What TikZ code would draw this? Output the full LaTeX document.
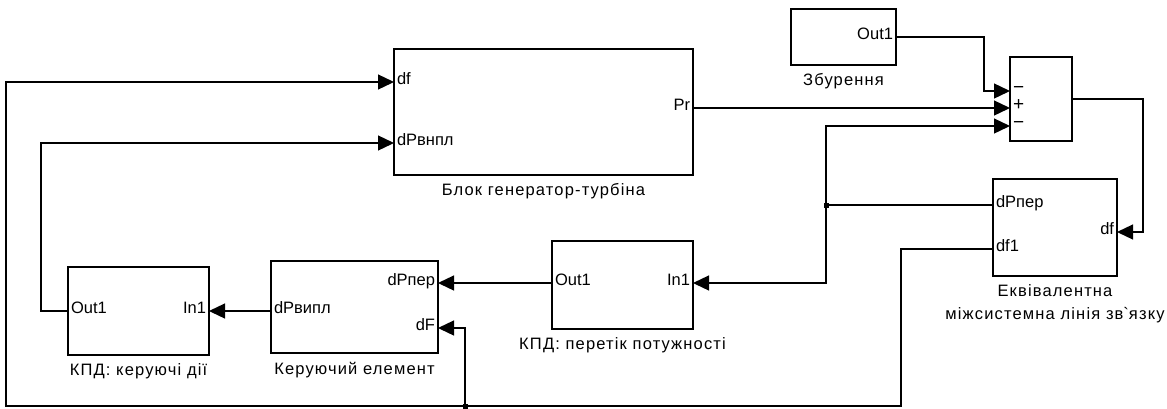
\documentclass[tikz,border=0pt]{standalone}
\usepackage{fontspec}
\setmainfont{Liberation Sans}
\newfontfamily\capfont{Liberation Sans}[LetterSpace=7]
\usetikzlibrary{arrows.meta, positioning}
\tikzstyle{block} = [rectangle, draw, line width=1.3pt, inner sep=0pt]
\tikzstyle{port} = [inner xsep=3pt, inner ysep=0pt, outer sep=0pt, font=\fontsize{16.5}{19}\selectfont]
\tikzstyle{caption} = [inner sep=0pt, align=center, font=\capfont\fontsize{16.5}{23}\selectfont]

\begin{document}
\begin{tikzpicture}[
x=1pt, y=-1pt,
wire/.style = {draw, line width=1.3pt, -{Triangle[length=16pt,width=15pt]}},
line/.style = {draw, line width=1.3pt},
dot/.style = {rectangle, fill, inner sep=0pt, minimum size=5pt}
                    ]
\useasboundingbox (0,0) rectangle (1167,408);

\node [block, minimum width=299pt, minimum height=126pt] (gen) at (543.5,112) {};
\node [port, anchor=mid west] (gen-df) at (394,82) {df};
\node [port, anchor=mid west] (gen-dv) at (394,143) {dPвнпл};
\node [port, anchor=mid east] (gen-pr) at (693,108) {Pr};
\node [caption, below=8pt of gen] (gen-cap) {Блок генератор-турбіна};

\node [block, minimum width=105pt, minimum height=56pt] (zbur) at (843.5,37) {};
\node [port, anchor=mid east] (zbur-out) at (896,37) {Out1};
\node [caption, below=8pt of zbur] (zbur-cap) {Збурення};

\node [block, minimum width=62pt, minimum height=84pt] (sum) at (1041,99) {};
\node [port, anchor=mid west, font=\fontsize{19}{19}\selectfont] (sum-m1) at (1010,91) {−};
\node [port, anchor=mid west, font=\fontsize{19}{19}\selectfont] (sum-p) at (1010,108) {+};
\node [port, anchor=mid west, font=\fontsize{19}{19}\selectfont] (sum-m2) at (1010,126) {−};

\node [block, minimum width=124pt, minimum height=97pt] (eq) at (1055,227.5) {};
\node [port, anchor=mid west] (eq-dp) at (993,205) {dPпер};
\node [port, anchor=mid west] (eq-df1) at (993,249) {df1};
\node [port, anchor=mid east] (eq-df) at (1117,232) {df};
\node [caption, below=8pt of eq] (eq-cap) {Еквівалентна\\міжсистемна лінія зв\textasciigrave язку};

\node [block, minimum width=141pt, minimum height=88pt] (per) at (622.5,285) {};
\node [port, anchor=mid west] (per-out) at (552,283) {Out1};
\node [port, anchor=mid east] (per-in) at (693,283) {In1};
\node [caption, below=8pt of per] (per-cap) {КПД: перетік потужності};

\node [block, minimum width=167pt, minimum height=92pt] (ker) at (354.5,307) {};
\node [port, anchor=mid east] (ker-dp) at (438,283) {dPпер};
\node [port, anchor=mid east] (ker-df) at (438,328) {dF};
\node [port, anchor=mid west] (ker-dv) at (271,311) {dPвипл};
\node [caption, below=8pt of ker] (ker-cap) {Керуючий елемент};

\node [block, minimum width=141pt, minimum height=88pt] (kpd) at (138.5,311) {};
\node [port, anchor=mid west] (kpd-out) at (68,311) {Out1};
\node [port, anchor=mid east] (kpd-in) at (209,311) {In1};
\node [caption, below=8pt of kpd] (kpd-cap) {КПД: керуючі дії};

\coordinate (j1) at (826,205);
\coordinate (j2) at (465,406);
\coordinate (fb-r) at (901,406);
\coordinate (fb-l) at (6,406);
\coordinate (fb-m) at (41,143);

\draw [wire] (zbur-out.mid east) -| ([xshift=-26pt]sum-m1.mid west) -- (sum-m1.mid west);
\draw [wire] (gen-pr.mid east) -- (sum-p.mid west);
\draw [wire] (sum.east) -| ([xshift=26pt]eq-df.mid east) -- (eq-df.mid east);
\draw [line] (eq-dp.mid west) -- (j1);
\draw [wire] (j1) |- (sum-m2.mid west);
\draw [wire] (j1) |- (per-in.mid east);
\node [dot] (dot1) at (j1) {};
\draw [wire] (per-out.mid west) -- (ker-dp.mid east);
\draw [wire] (ker-dv.mid west) -- (kpd-in.mid east);
\draw [wire] (kpd-out.mid west) -| (fb-m) -- (gen-dv.mid west);
\draw [wire] (eq-df1.mid west) -| (fb-r) -- (fb-l) |- (gen-df.mid west);
\draw [wire] (j2) |- (ker-df.mid east);
\node [dot] (dot2) at (j2) {};
\end{tikzpicture}
\end{document}
